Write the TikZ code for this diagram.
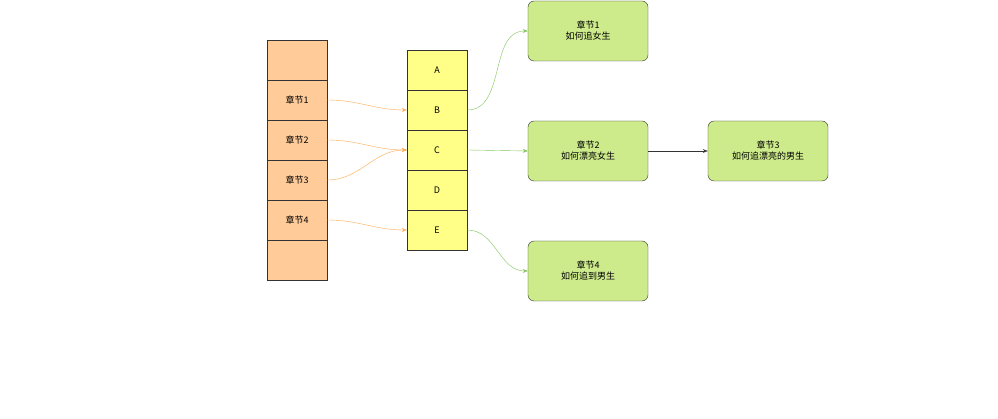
\documentclass[tikz,border=0pt]{standalone}
\usepackage{fontspec}
\setmainfont{Liberation Sans}
\newfontfamily\cjk{Noto Sans CJK SC}
\usetikzlibrary{arrows.meta}
\definecolor{org}{HTML}{FFCC99}
\definecolor{yel}{HTML}{FFFF88}
\definecolor{grn}{HTML}{CDEB8B}
\definecolor{oline}{HTML}{FFA94D}
\definecolor{gline}{HTML}{82C45A}
\begin{document}
\begin{tikzpicture}[x=1pt,y=-1pt,
  cell/.style={draw=black!80,minimum width=60pt,minimum height=40pt,inner sep=0pt,font=\cjk\fontsize{9}{11}\selectfont},
  ocell/.style={cell,fill=org},
  ycell/.style={cell,fill=yel},
  gbox/.style={draw=black!80,fill=grn,rounded corners=6pt,minimum width=120pt,minimum height=60pt,align=center,font=\cjk\fontsize{9}{11}\selectfont},
  oarr/.style={draw=oline,-{Stealth[length=5pt]}},
  garr/.style={draw=gline,-{Stealth[length=5pt]}}]
\useasboundingbox (0,0) rectangle (998,419);
\node[ocell] (l0) at (297,60) {};
\node[ocell] (l1) at (297,100) {章节1};
\node[ocell] (l2) at (297,140) {章节2};
\node[ocell] (l3) at (297,180) {章节3};
\node[ocell] (l4) at (297,220) {章节4};
\node[ocell] (l5) at (297,260) {};
\node[ycell] (a) at (437,70) {A};
\node[ycell] (b) at (437,110) {B};
\node[ycell] (c) at (437,150) {C};
\node[ycell] (d) at (437,190) {D};
\node[ycell] (e) at (437,230) {E};
\node[gbox] (g1) at (588,31) {章节1\\如何追女生};
\node[gbox] (g2) at (588,151) {章节2\\如何漂亮女生};
\node[gbox] (g3) at (768,151) {章节3\\如何追漂亮的男生};
\node[gbox] (g4) at (588,271) {章节4\\如何追到男生};
\draw[oarr] (l1.east) to[out=0,in=180] (b.west);
\draw[oarr] (l2.east) to[out=0,in=180] (c.west);
\draw[oarr] (l3.east) to[out=0,in=180] (c.west);
\draw[oarr] (l4.east) to[out=0,in=180] (e.west);
\draw[garr] (b.east) to[out=0,in=180] (g1.west);
\draw[garr] (c.east) -- (g2.west);
\draw[garr] (e.east) to[out=0,in=180] (g4.west);
\draw[black!80,-{Stealth[length=5pt]}] (g2.east) -- (g3.west);
\end{tikzpicture}
\end{document}
